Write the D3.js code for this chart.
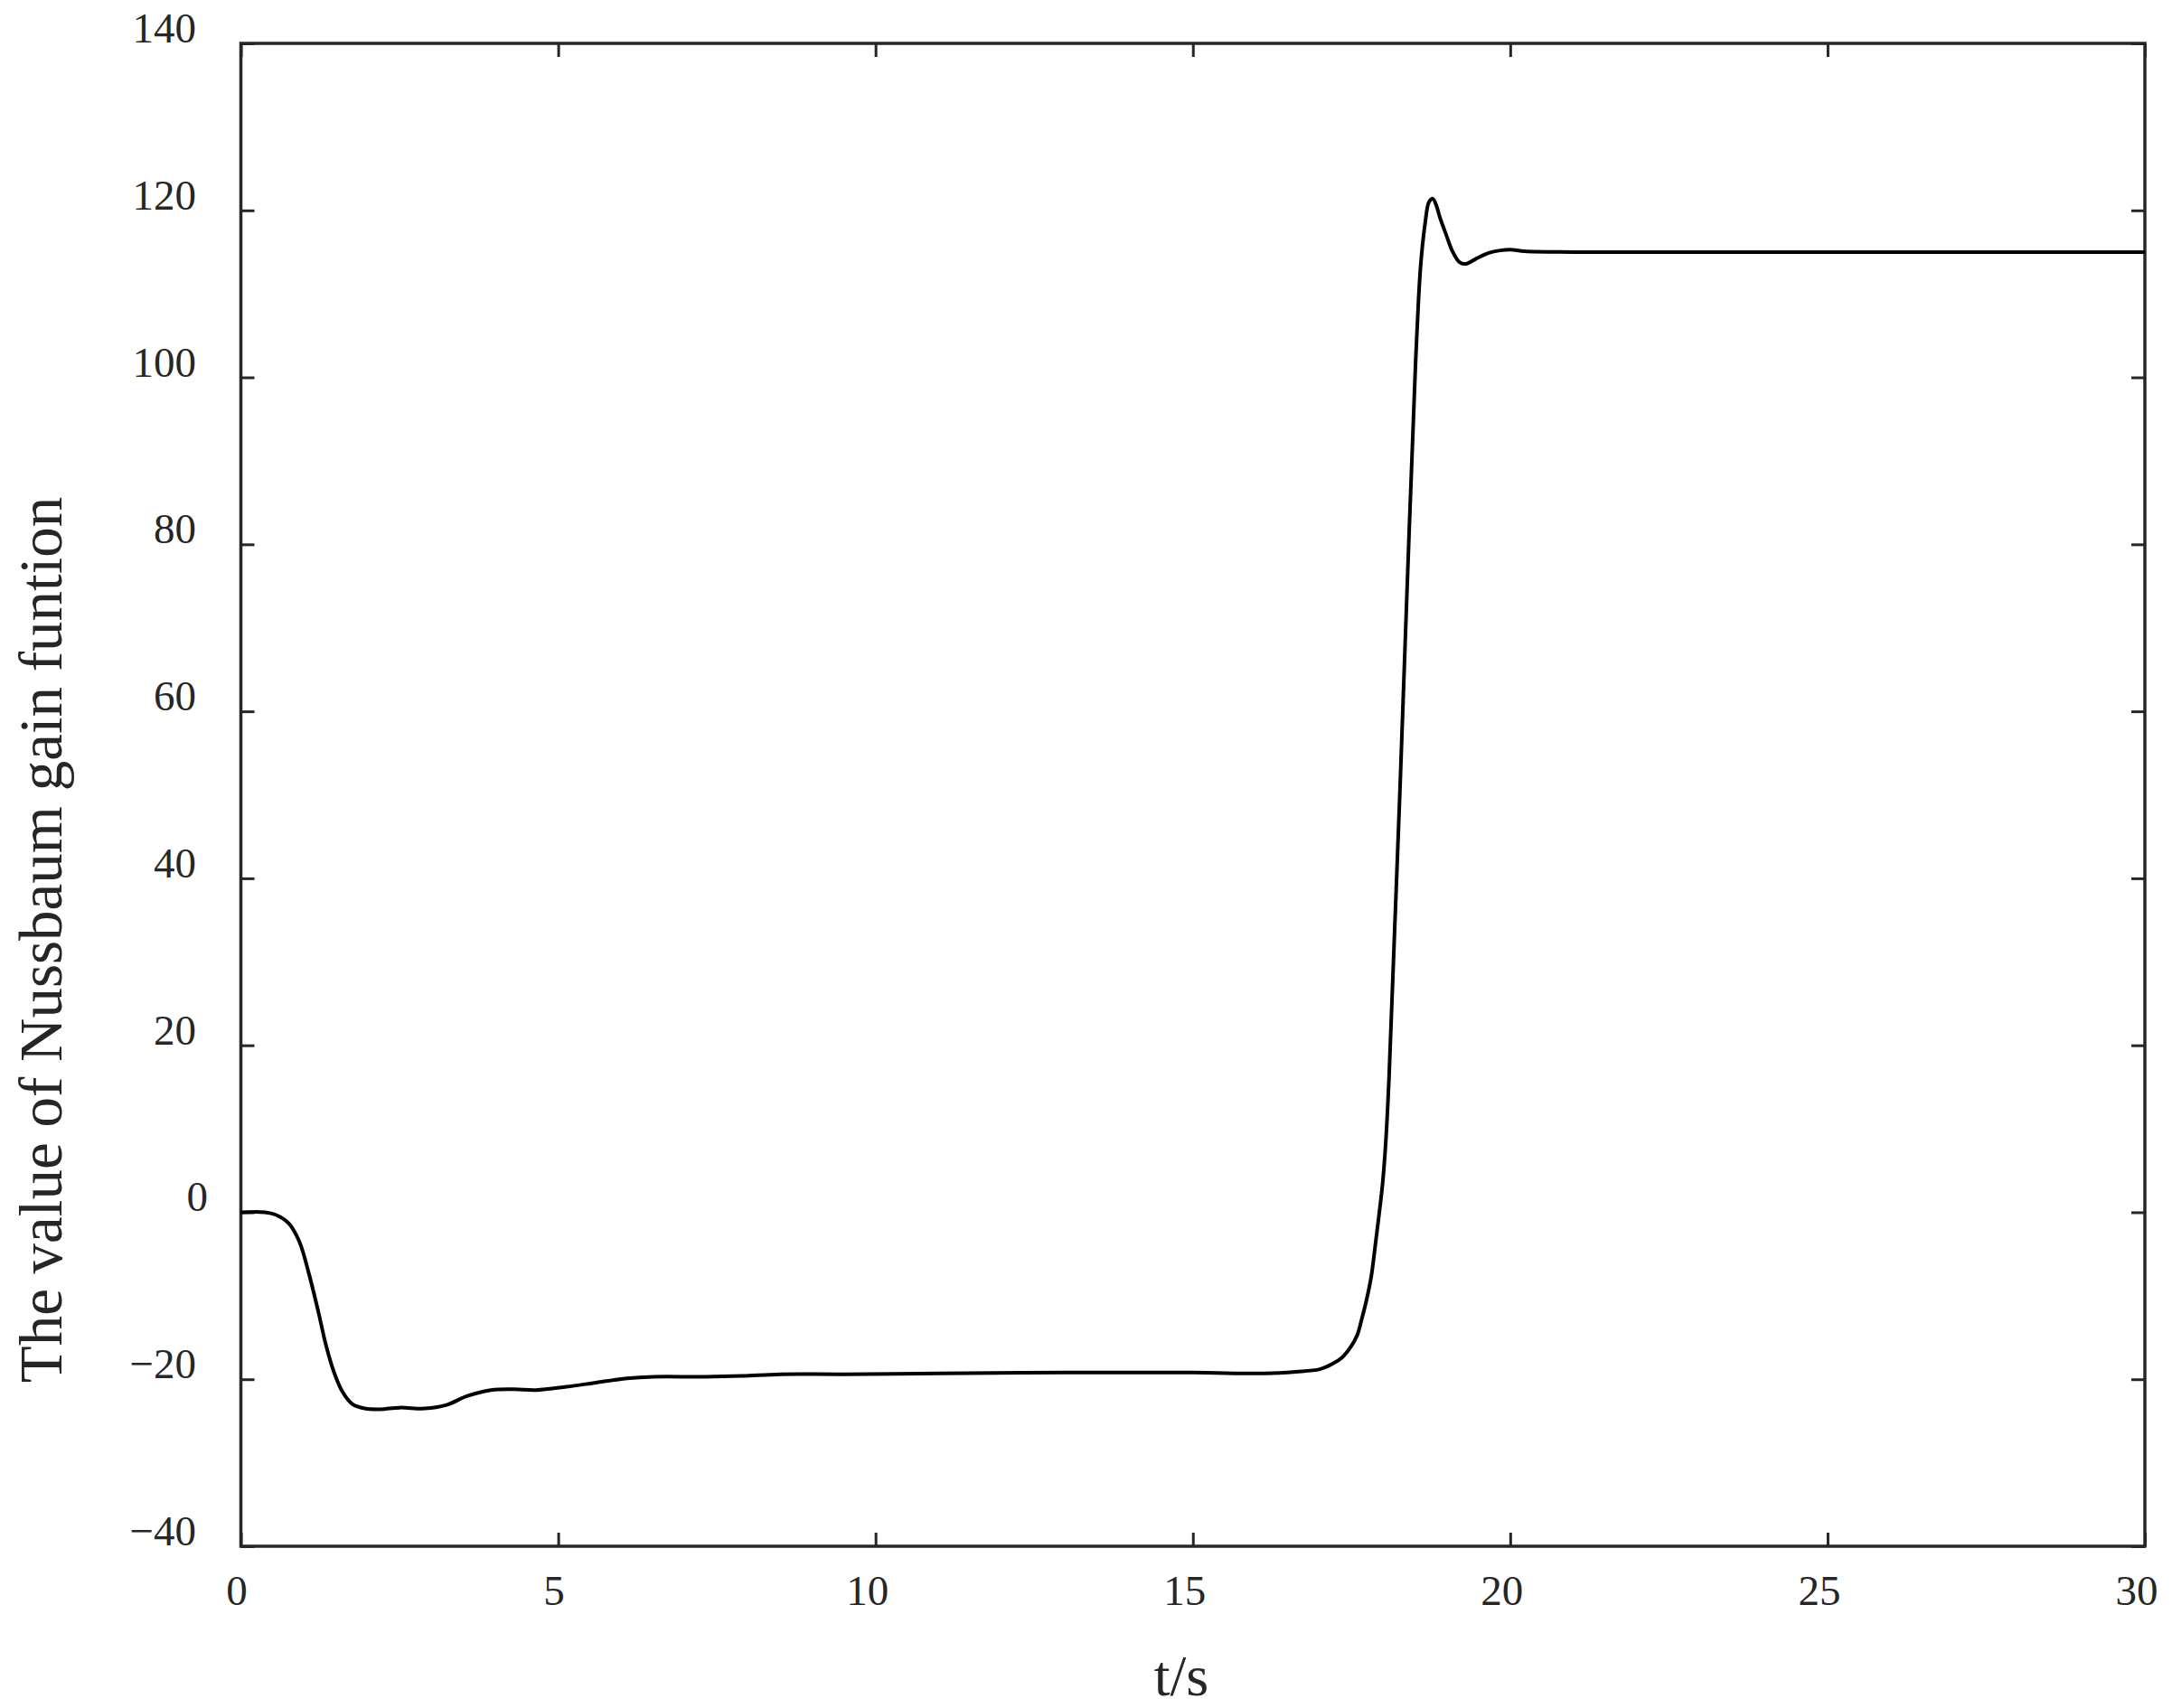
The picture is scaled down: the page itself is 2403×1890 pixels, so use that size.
<!DOCTYPE html>
<html>
<head>
<meta charset="utf-8">
<script src="https://cdn.jsdelivr.net/npm/d3@7"></script>
<style>
  body { margin: 0; background: #fff; }
  text { font-family: "Liberation Serif", "Times New Roman", serif; fill: #262626; }
</style>
</head>
<body>
<script>
// time samples (s)
var time = [0, 0.38, 0.55, 0.75, 0.92, 1.07, 1.22, 1.34, 1.46, 1.6, 1.76, 1.95, 2.2, 2.5, 2.9, 3.23,
    3.57, 3.94, 4.3, 4.65, 5.13, 5.6, 6.08, 6.5, 7.3, 7.9, 8.5, 9.5, 11, 13, 15, 16.14, 16.62,
    17.0, 17.19, 17.35, 17.49, 17.59, 17.66, 17.73, 17.81, 17.87, 17.93, 17.99, 18.04, 18.09,
    18.14, 18.20, 18.26, 18.33, 18.41, 18.47, 18.51, 18.55, 18.59, 18.66, 18.72, 18.78,
    18.84, 18.89, 18.99, 19.09, 19.2, 19.3, 19.46, 19.66, 19.84, 20.0, 20.23, 21, 25, 30]

// value of the Nussbaum gain function at each sample
var gain = [0, 0, -0.3, -1.3, -3.5, -7.3, -11.9, -15.9, -19, -21.5, -23.0, -23.5, -23.6, -23.4, -23.5, -23.1,
    -22.0, -21.3, -21.2, -21.3, -20.9, -20.4, -19.9, -19.7, -19.7, -19.6, -19.4, -19.4, -19.3, -19.2, -19.2, -19.3, -19.1,
    -18.8, -18.2, -17.4, -16.1, -14.7, -12.8, -10.7, -7.7, -4.2, -0.5, 3.5, 8.5, 16,
    26, 38, 50, 65, 82, 94, 102, 108.5, 113.5, 118.5, 121, 121.4,
    120.5, 119.2, 117.1, 115.1, 113.8, 113.6, 114.2, 114.9, 115.2, 115.3, 115.1, 115, 115, 115]

var xTicks = [0, 5, 10, 15, 20, 25, 30]
var yTicks = [-40, -20, 0, 20, 40, 60, 80, 100, 120, 140]

var data = time.map(function(t, i) { return {t: t, v: gain[i]} })

var width = 2403, height = 1890
// plot box (note: "top" is taken by window.top, so keep these in an object)
var box = {left: 266.5, right: 2373, top: 48, bottom: 1711}

var svg = d3.select("body").append("svg")
    .attr("width", width)
    .attr("height", height)

svg.append("rect").attr("width", width).attr("height", height).attr("fill", "#fff")

var xScale = d3.scaleLinear().domain([0, 30]).range([box.left, box.right])
var yScale = d3.scaleLinear().domain([-40, 140]).range([box.bottom, box.top])

// inward ticks on all four sides
function ticks(axis, tr) {
    var g = svg.append("g").attr("transform", tr).call(axis)
    g.select(".domain").remove()
    g.selectAll(".tick line").attr("stroke", "#262626").attr("stroke-width", 3)
}
ticks(d3.axisBottom(xScale).tickValues(xTicks).tickSize(-15).tickFormat(""), "translate(0," + box.bottom + ")")
ticks(d3.axisTop(xScale).tickValues(xTicks).tickSize(-15).tickFormat(""), "translate(0," + box.top + ")")
ticks(d3.axisLeft(yScale).tickValues(yTicks).tickSize(-15).tickFormat(""), "translate(" + box.left + ",0)")
ticks(d3.axisRight(yScale).tickValues(yTicks).tickSize(-15).tickFormat(""), "translate(" + box.right + ",0)")

// frame
svg.append("rect")
    .attr("x", box.left).attr("y", box.top)
    .attr("width", box.right - box.left).attr("height", box.bottom - box.top)
    .attr("fill", "none")
    .attr("stroke", "#262626")
    .attr("stroke-width", 3.5)

function fmt(d) { return d < 0 ? "\u2212" + Math.abs(d) : String(d) }

// tick labels
svg.append("g").selectAll("text")
    .data(xTicks).join("text")
    .attr("x", d => xScale(d) - 4.5 * String(d).length)
    .attr("y", 1776)
    .attr("text-anchor", "middle")
    .style("font-size", "47px")
    .text(fmt)

svg.append("g").selectAll("text")
    .data(yTicks).join("text")
    .attr("x", d => d === 0 ? 230 : 217)
    .attr("y", d => yScale(d) - 1)
    .attr("text-anchor", "end")
    .style("font-size", "47px")
    .text(fmt)

// axis titles
svg.append("text")
    .attr("x", 1307).attr("y", 1876)
    .attr("text-anchor", "middle")
    .style("font-size", "64px")
    .text("t/s")

svg.append("text")
    .attr("transform", "translate(68,1040) rotate(-90)")
    .attr("text-anchor", "middle")
    .style("font-size", "67px")
    .text("The value of Nussbaum gain funtion")

// the curve (centripetal catmull-rom keeps it smooth without big overshoot)
var line = d3.line()
    .x(d => xScale(d.t))
    .y(d => yScale(d.v))
    .curve(d3.curveCatmullRom.alpha(0.5))

svg.append("path")
    .datum(data)
    .attr("d", line)
    .attr("fill", "none")
    .attr("stroke", "#000")
    .attr("stroke-width", 4)
    .attr("stroke-linejoin", "round")
</script>
</body>
</html>
